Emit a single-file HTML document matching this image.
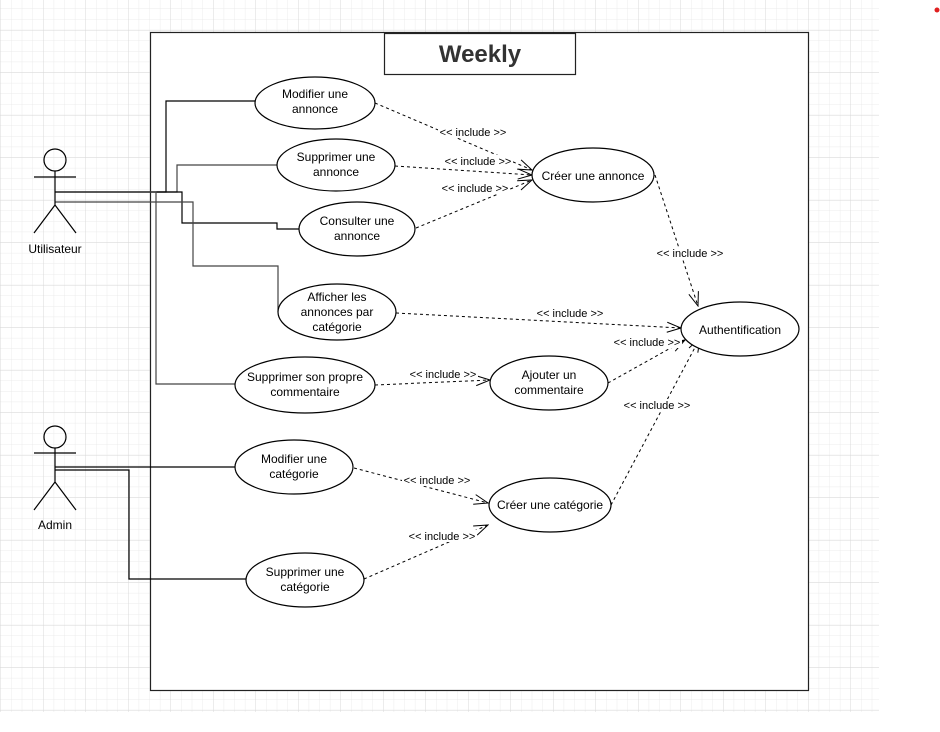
<!DOCTYPE html>
<html><head><meta charset="utf-8"><style>
html,body{margin:0;padding:0;background:#fff;}
svg{display:block;font-family:"Liberation Sans",Arial,sans-serif;}
</style></head><body>
<svg width="940" height="732" viewBox="0 0 940 732" xmlns="http://www.w3.org/2000/svg">
<defs>
<pattern id="minor" width="10.625" height="10.625" patternUnits="userSpaceOnUse" x="1" y="9">
<path d="M10.625 0V10.625H0" fill="none" stroke="#ebebeb" stroke-width="1"/></pattern>
<pattern id="major" width="42.5" height="42.5" patternUnits="userSpaceOnUse" x="1" y="-12">
<path d="M42.5 0V42.5H0" fill="none" stroke="#d9d9d9" stroke-width="1"/></pattern>
<marker id="ar" markerWidth="16" markerHeight="12" refX="15" refY="6" orient="auto" markerUnits="userSpaceOnUse">
<path d="M1,1 L15,6 L1,11" fill="none" stroke="#000" stroke-width="1"/></marker>
</defs>
<rect x="0" y="0" width="879" height="712" fill="url(#minor)"/>
<rect x="0" y="0" width="879" height="712" fill="url(#major)"/>
<circle cx="937" cy="10" r="2.5" fill="#e02020"/>
<rect x="150.5" y="32.5" width="658" height="658" fill="#fff" stroke="#222" stroke-width="1.2"/>
<rect x="384.5" y="33.5" width="191" height="41" fill="#fff" stroke="#222" stroke-width="1.2"/>
<text x="480" y="62" font-size="24" font-weight="bold" fill="#333" text-anchor="middle">Weekly</text>

<g fill="none" stroke="#000" stroke-width="1.2">
<path d="M55,192H166V101H255"/>
<path d="M55,192H177V165H277" stroke="#444"/>
<path d="M55,192H182V223H277V229H299"/>
<path d="M55,202H193V266H278V312" stroke="#444"/>
<path d="M55,192H156V384H236" stroke="#444"/>
<path d="M55,467H235"/>
<path d="M55,470H129V579H246"/>
</g>

<g fill="none" stroke="#000" stroke-width="1.2">
<circle cx="55" cy="160" r="11"/>
<path d="M55,171V205M34,177H76M55,205L34,233M55,205L76,233"/>
<circle cx="55" cy="437" r="11"/>
<path d="M55,448V482M34,453H76M55,482L34,510M55,482L76,510"/>
</g>
<g font-size="12" text-anchor="middle" fill="#000">
<text x="55" y="253">Utilisateur</text>
<text x="55" y="529">Admin</text>
</g>

<g fill="none" stroke="#000" stroke-width="1" stroke-dasharray="3,3" marker-end="url(#ar)">
<path d="M375,103L532,170"/>
<path d="M395,166L532,175"/>
<path d="M416,228L532,180"/>
<path d="M655,175L698,306"/>
<path d="M396,313L681,328"/>
<path d="M608,383L685,340"/>
<path d="M375,385L490,380"/>
<path d="M611,505L700,338"/>
<path d="M354,468L488,503"/>
<path d="M364,579L488,525"/>
</g>

<g fill="#fff" stroke="#000" stroke-width="1.2">
<ellipse cx="315" cy="103" rx="60" ry="26"/>
<ellipse cx="336" cy="165" rx="59" ry="26"/>
<ellipse cx="357" cy="229" rx="58" ry="27"/>
<ellipse cx="337" cy="312" rx="59" ry="28"/>
<ellipse cx="305" cy="385" rx="70" ry="28"/>
<ellipse cx="593" cy="175" rx="61" ry="27"/>
<ellipse cx="740" cy="329" rx="59" ry="27"/>
<ellipse cx="549" cy="383" rx="59" ry="27"/>
<ellipse cx="294" cy="467" rx="59" ry="27"/>
<ellipse cx="550" cy="505" rx="61" ry="27"/>
<ellipse cx="305" cy="580" rx="59" ry="27"/>
</g>
<g font-size="12" text-anchor="middle" fill="#000">
<text x="315" y="98">Modifier une</text><text x="315" y="113">annonce</text>
<text x="336" y="161">Supprimer une</text><text x="336" y="176">annonce</text>
<text x="357" y="225">Consulter une</text><text x="357" y="240">annonce</text>
<text x="337" y="301">Afficher les</text><text x="337" y="316">annonces par</text><text x="337" y="331">catégorie</text>
<text x="305" y="381">Supprimer son propre</text><text x="305" y="396">commentaire</text>
<text x="593" y="180">Créer une annonce</text>
<text x="740" y="334">Authentification</text>
<text x="549" y="379">Ajouter un</text><text x="549" y="394">commentaire</text>
<text x="294" y="463">Modifier une</text><text x="294" y="478">catégorie</text>
<text x="550" y="509">Créer une catégorie</text>
<text x="305" y="576">Supprimer une</text><text x="305" y="591">catégorie</text>
</g>

<g font-size="11" text-anchor="middle" fill="#000">
<g fill="#fff">
<rect x="438" y="126" width="70" height="12"/>
<rect x="443" y="155" width="70" height="12"/>
<rect x="440" y="182" width="70" height="12"/>
<rect x="655" y="247" width="70" height="12"/>
<rect x="535" y="307" width="70" height="12"/>
<rect x="612" y="336" width="70" height="12"/>
<rect x="408" y="368" width="70" height="12"/>
<rect x="622" y="399" width="70" height="12"/>
<rect x="402" y="474" width="70" height="12"/>
<rect x="407" y="530" width="70" height="12"/>
</g>
<text x="473" y="136">&lt;&lt; include &gt;&gt;</text>
<text x="478" y="165">&lt;&lt; include &gt;&gt;</text>
<text x="475" y="192">&lt;&lt; include &gt;&gt;</text>
<text x="690" y="257">&lt;&lt; include &gt;&gt;</text>
<text x="570" y="317">&lt;&lt; include &gt;&gt;</text>
<text x="647" y="346">&lt;&lt; include &gt;&gt;</text>
<text x="443" y="378">&lt;&lt; include &gt;&gt;</text>
<text x="657" y="409">&lt;&lt; include &gt;&gt;</text>
<text x="437" y="484">&lt;&lt; include &gt;&gt;</text>
<text x="442" y="540">&lt;&lt; include &gt;&gt;</text>
</g>
</svg>
</body></html>
